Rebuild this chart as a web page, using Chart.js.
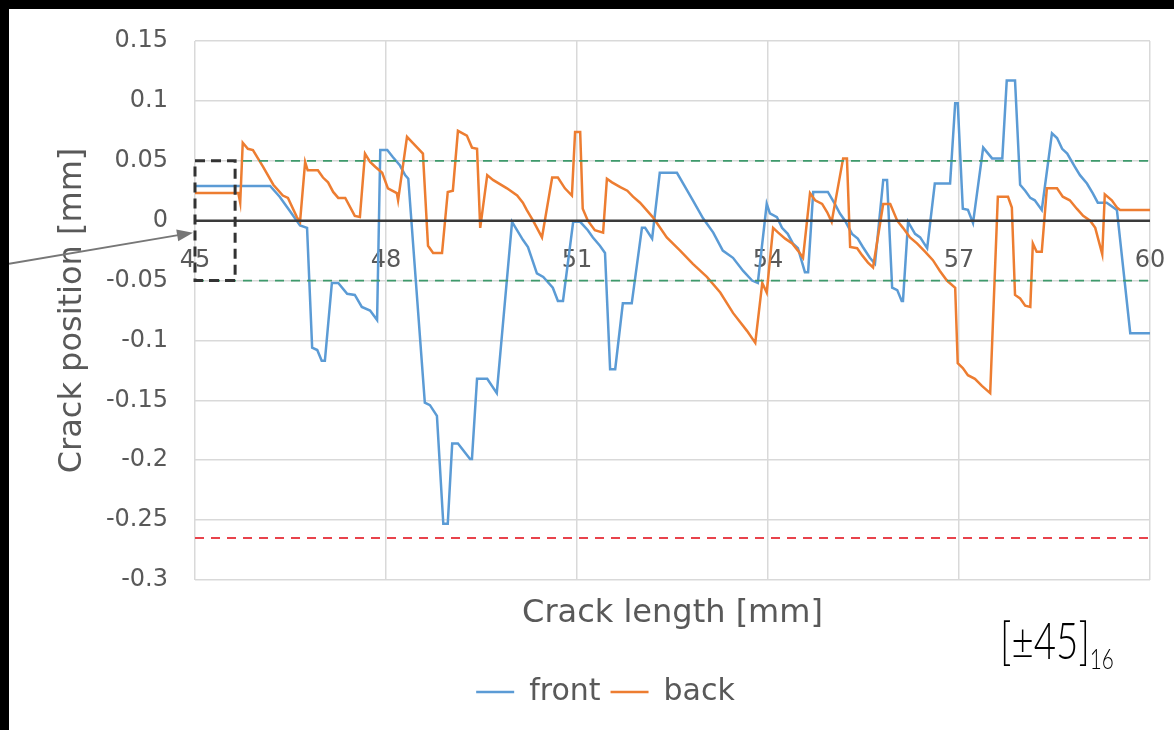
<!DOCTYPE html>
<html>
<head>
<meta charset="utf-8">
<script src="https://cdn.jsdelivr.net/npm/chart.js@4.4.1/dist/chart.umd.min.js"></script>
<style>
  html, body { margin: 0; padding: 0; background: #000; }
  body { width: 1174px; height: 730px; overflow: hidden; position: relative; }
  #wrap { position: absolute; left: 9px; top: 9px; width: 1165px; height: 721px; background: #fff; }
  #lay { position: absolute; left: 991px; top: 599px; font-family: Lato, sans-serif; font-weight: 300; font-size: 52px;
         color: #000; transform: scaleX(0.74); transform-origin: left top; white-space: nowrap; }
  #lay sub { font-size: 28px; vertical-align: -10px; }
</style>
</head>
<body>
<div id="wrap">
  <canvas id="c" width="1165" height="721"></canvas>
  <div id="lay">[±45]<sub>16</sub></div>
</div>
<script>
// crack length [mm] / crack position [mm], front surface
const frontX = [45.00, 46.18, 46.33, 46.49, 46.65, 46.76, 46.84, 46.92, 46.99, 47.04, 47.15, 47.25, 47.39, 47.51, 47.62, 47.75, 47.86,
  47.91, 48.02, 48.11, 48.22, 48.30, 48.35, 48.61, 48.69, 48.80, 48.90, 48.97, 49.04, 49.13, 49.32, 49.35, 49.43, 49.59, 49.74,
  49.98, 50.15, 50.23, 50.37, 50.47, 50.62, 50.70, 50.78, 50.94, 51.05, 51.17, 51.25, 51.36, 51.44, 51.52, 51.60, 51.72, 51.86,
  52.02, 52.07, 52.18, 52.30, 52.57, 52.70, 52.82, 52.98, 53.14, 53.29, 53.45, 53.61, 53.75, 53.84, 53.98, 54.03, 54.14, 54.22,
  54.31, 54.39, 54.47, 54.58, 54.63, 54.71, 54.94, 55.05, 55.13, 55.21, 55.32, 55.41, 55.49, 55.60, 55.68, 55.81, 55.87, 55.95,
  56.03, 56.10, 56.12, 56.20, 56.31, 56.39, 56.50, 56.62, 56.86, 56.94, 56.98, 57.06, 57.14, 57.22, 57.38, 57.52, 57.68, 57.75,
  57.88, 57.96, 58.04, 58.12, 58.19, 58.30, 58.46, 58.54, 58.62, 58.70, 58.82, 58.90, 59.01, 59.10, 59.18, 59.32, 59.48, 59.69, 60.00];
const frontY = [0.029, 0.029, 0.020, 0.008, -0.004, -0.006, -0.106, -0.108, -0.117, -0.117, -0.052, -0.052, -0.061, -0.062, -0.072, -0.075, -0.083,
  0.059, 0.059, 0.053, 0.046, 0.038, 0.035, -0.152, -0.154, -0.163, -0.253, -0.253, -0.186, -0.186, -0.199, -0.199, -0.132, -0.132, -0.144,
  -0.001, -0.016, -0.022, -0.044, -0.047, -0.056, -0.067, -0.067, -0.001, -0.001, -0.008, -0.014, -0.021, -0.027, -0.124, -0.124, -0.069, -0.069,
  -0.006, -0.006, -0.015, 0.040, 0.040, 0.028, 0.017, 0.002, -0.010, -0.025, -0.031, -0.042, -0.050, -0.052, 0.014, 0.006, 0.003, -0.006,
  -0.011, -0.019, -0.023, -0.043, -0.043, 0.024, 0.024, 0.014, 0.006, 0.000, -0.011, -0.015, -0.022, -0.031, -0.036, 0.034, 0.034, -0.056,
  -0.058, -0.067, -0.067, -0.001, -0.011, -0.014, -0.023, 0.031, 0.031, 0.098, 0.098, 0.010, 0.009, -0.002, 0.061, 0.052, 0.052, 0.117,
  0.117, 0.030, 0.025, 0.019, 0.017, 0.009, 0.073, 0.069, 0.060, 0.056, 0.045, 0.038, 0.031, 0.023, 0.015, 0.015, 0.009, -0.094, -0.094];

// back surface
const backX = [45.00, 45.68, 45.71, 45.75, 45.83, 45.91, 46.07, 46.23, 46.38, 46.46, 46.60, 46.65, 46.73, 46.77, 46.93, 47.01, 47.09,
  47.17, 47.25, 47.36, 47.51, 47.59, 47.67, 47.75, 47.83, 47.94, 48.03, 48.17, 48.19, 48.33, 48.42, 48.58, 48.66, 48.74, 48.88,
  48.97, 49.05, 49.13, 49.27, 49.35, 49.43, 49.48, 49.59, 49.68, 49.90, 50.06, 50.15, 50.21, 50.31, 50.45, 50.61, 50.70, 50.81,
  50.92, 50.97, 51.05, 51.09, 51.17, 51.28, 51.41, 51.47, 51.55, 51.68, 51.79, 51.88, 51.99, 52.19, 52.41, 52.62, 52.82, 53.04,
  53.25, 53.45, 53.67, 53.80, 53.91, 53.98, 54.08, 54.16, 54.27, 54.38, 54.47, 54.55, 54.66, 54.74, 54.85, 54.93, 55.00, 55.18,
  55.24, 55.29, 55.40, 55.48, 55.57, 55.65, 55.81, 55.92, 56.03, 56.12, 56.23, 56.34, 56.47, 56.59, 56.70, 56.81, 56.94, 56.98,
  57.06, 57.14, 57.25, 57.36, 57.49, 57.61, 57.77, 57.83, 57.88, 57.96, 58.04, 58.12, 58.16, 58.22, 58.30, 58.38, 58.54, 58.63,
  58.74, 58.85, 58.95, 59.06, 59.14, 59.25, 59.29, 59.40, 59.48, 59.53, 60.00];
const backY = [0.023, 0.023, 0.015, 0.065, 0.060, 0.059, 0.045, 0.030, 0.021, 0.019, 0.003, -0.001, 0.049, 0.042, 0.042, 0.036, 0.032,
  0.024, 0.019, 0.019, 0.004, 0.003, 0.056, 0.049, 0.045, 0.040, 0.027, 0.023, 0.017, 0.070, 0.065, 0.056, -0.021, -0.027, -0.027,
  0.024, 0.025, 0.075, 0.071, 0.061, 0.060, -0.006, 0.038, 0.034, 0.027, 0.021, 0.015, 0.009, 0.000, -0.014, 0.036, 0.036, 0.027,
  0.021, 0.074, 0.074, 0.010, 0.000, -0.008, -0.010, 0.035, 0.032, 0.028, 0.025, 0.020, 0.015, 0.003, -0.014, -0.025, -0.036, -0.047,
  -0.060, -0.077, -0.092, -0.102, -0.052, -0.060, -0.006, -0.010, -0.015, -0.019, -0.025, -0.031, 0.023, 0.017, 0.014, 0.007, -0.001, 0.052,
  0.052, -0.022, -0.023, -0.029, -0.035, -0.039, 0.014, 0.014, 0.000, -0.006, -0.014, -0.019, -0.026, -0.033, -0.042, -0.050, -0.056, -0.119,
  -0.123, -0.129, -0.132, -0.138, -0.144, 0.020, 0.020, 0.011, -0.062, -0.065, -0.071, -0.072, -0.019, -0.026, -0.026, 0.027, 0.027, 0.020,
  0.017, 0.010, 0.004, 0.000, -0.006, -0.028, 0.022, 0.017, 0.011, 0.009, 0.009];

// reference levels
const xRange = [45, 60];
const tolerance = 0.05;
const limitLine = -0.265;
const xTicks = [45, 48, 51, 54, 57, 60];
const yTicks = [0.15, 0.1, 0.05, 0, -0.05, -0.1, -0.15, -0.2, -0.25, -0.3];

const toPts = (xs, ys) => xs.map((x, i) => ({ x, y: ys[i] }));
const level = v => xRange.map(x => ({ x, y: v }));

const grey = '#595959';
const font = 'DejaVu Sans';

/* dashed box + arrow on the left */
const markerPlugin = {
  id: 'marker',
  afterLayout(chart) {
    // legend sits a bit right of centre in the original
    chart.legend.left += 26;
    chart.legend.right += 26;
  },
  afterDatasetsDraw(chart) {
    const { ctx, scales: { x, y } } = chart;
    const x0 = x.getPixelForValue(45), x1 = x.getPixelForValue(45.63);
    const y0 = y.getPixelForValue(tolerance), y1 = y.getPixelForValue(-tolerance);
    ctx.save();
    ctx.strokeStyle = '#333';
    ctx.lineWidth = 3;
    ctx.setLineDash([10, 6]);
    ctx.strokeRect(x0, y0, x1 - x0, y1 - y0);
    ctx.setLineDash([]);

    const tx = x0 - 2, ty = y.getPixelForValue(-0.01);
    const sx = 0, sy = ty + 31;
    const a = Math.atan2(ty - sy, tx - sx);
    ctx.strokeStyle = '#777';
    ctx.fillStyle = '#777';
    ctx.lineWidth = 2;
    ctx.beginPath();
    ctx.moveTo(sx, sy);
    ctx.lineTo(tx - 12 * Math.cos(a), ty - 12 * Math.sin(a));
    ctx.stroke();
    ctx.beginPath();
    ctx.moveTo(tx, ty);
    ctx.lineTo(tx - 16 * Math.cos(a) + 6 * Math.sin(a), ty - 16 * Math.sin(a) - 6 * Math.cos(a));
    ctx.lineTo(tx - 16 * Math.cos(a) - 6 * Math.sin(a), ty - 16 * Math.sin(a) + 6 * Math.cos(a));
    ctx.closePath();
    ctx.fill();
    ctx.restore();
  }
};

const refLine = (label, v, color, dash, width) => ({
  label, data: level(v), borderColor: color, borderWidth: width, borderDash: dash,
  pointRadius: 0, xAxisID: 'x', yAxisID: 'y', order: 0
});

new Chart(document.getElementById('c'), {
  type: 'line',
  data: {
    datasets: [
      refLine('zero', 0, '#3a3a3a', [], 2.5),
      refLine('upper', tolerance, '#3e9a6c', [9, 7], 1.8),
      refLine('lower', -tolerance, '#3e9a6c', [9, 7], 1.8),
      refLine('limit', limitLine, '#e8434c', [9, 7], 2),
      {
        label: 'front', data: toPts(frontX, frontY), borderColor: '#5b9bd5', backgroundColor: '#5b9bd5',
        borderWidth: 2.5, pointRadius: 0, tension: 0, xAxisID: 'x', yAxisID: 'y', order: 2
      },
      {
        label: 'back', data: toPts(backX, backY), borderColor: '#ed7d31', backgroundColor: '#ed7d31',
        borderWidth: 2.5, pointRadius: 0, tension: 0, xAxisID: 'x', yAxisID: 'y', order: 1
      }
    ]
  },
  options: {
    responsive: false,
    animation: false,
    layout: { padding: { left: 0, top: 32, right: 24, bottom: 13 } },
    plugins: {
      tooltip: { enabled: false },
      legend: {
        position: 'bottom',
        labels: {
          filter: item => item.text === 'front' || item.text === 'back',
          sort: (a, b) => a.datasetIndex - b.datasetIndex,
          usePointStyle: true,
          pointStyle: 'line',
          pointStyleWidth: 38,
          color: grey,
          font: { family: font, size: 30 },
          padding: 10
        }
      }
    },
    scales: {
      x: {
        type: 'linear',
        position: { y: 0 },
        min: xRange[0], max: xRange[1],
        afterBuildTicks: s => { s.ticks = xTicks.map(v => ({ value: v })); },
        ticks: { color: grey, font: { family: font, size: 24 }, padding: 0, maxRotation: 0 },
        grid: { color: '#d9d9d9', lineWidth: 1.5, drawTicks: true, tickLength: 26, tickColor: 'rgba(0,0,0,0)' },
        border: { display: false }
      },
      x2: {
        type: 'linear',
        position: 'bottom',
        min: xRange[0], max: xRange[1],
        ticks: { display: false },
        grid: { display: false, drawTicks: false },
        border: { display: false },
        title: {
          display: true, text: 'Crack length [mm]', color: grey,
          font: { family: font, size: 32 }, padding: { top: 0, bottom: 34 }
        },
        afterFit: s => { s.height = 87; }
      },
      y: {
        type: 'linear',
        min: -0.3, max: 0.15,
        afterBuildTicks: s => { s.ticks = yTicks.map(v => ({ value: v })); },
        ticks: {
          color: grey, font: { family: font, size: 24 }, padding: 0,
          callback: v => String(Number(v.toFixed(2)))
        },
        grid: { color: '#d9d9d9', lineWidth: 1.5, drawTicks: true, tickLength: 27, tickColor: 'rgba(0,0,0,0)' },
        border: { display: false },
        title: {
          display: true, text: 'Crack position [mm]', color: grey,
          font: { family: font, size: 32 }, padding: { top: 44, bottom: 0 }
        },
        afterFit: s => { s.width = 186; }
      }
    }
  },
  plugins: [markerPlugin]
});
</script>
</body>
</html>
